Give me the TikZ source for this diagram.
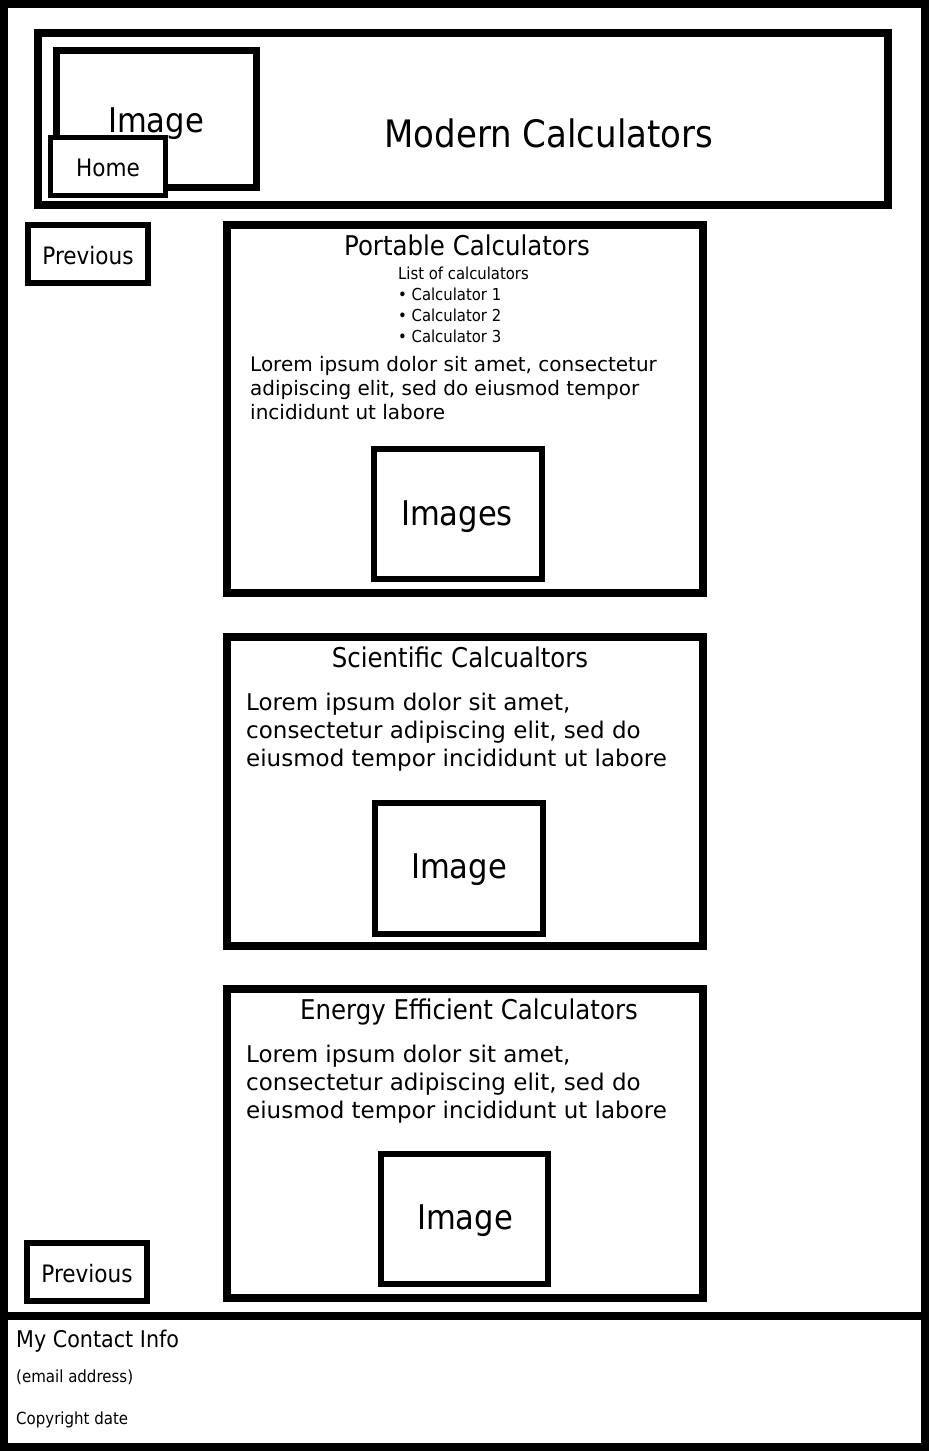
\documentclass[tikz,border=0pt]{standalone}
\usepackage{fontspec}
\setmainfont{DejaVu Sans}
\newfontfamily\tah{DejaVu Sans Condensed}
\newfontfamily\verd{DejaVu Sans}
\begin{document}
\begin{tikzpicture}[x=1pt,y=-1pt,
  frame/.style={draw=black,line width=8pt},
  boxa/.style={draw=black,fill=white,inner sep=0pt},
  lbl/.style={inner sep=0pt,font=\tah},
  big/.style={inner sep=0pt,anchor=base,font=\tah\fontsize{34}{40}\selectfont},
  head/.style={inner sep=0pt,anchor=base,font=\tah\fontsize{27.2}{32}\selectfont},
  btn/.style={inner sep=0pt,anchor=base,font=\tah\fontsize{24}{28}\selectfont},
  body/.style={inner sep=0pt,anchor=base west,font=\verd\fontsize{23}{28}\selectfont},
  bodys/.style={inner sep=0pt,anchor=base west,font=\verd\fontsize{20}{24}\selectfont},
  lst/.style={inner sep=0pt,anchor=base west,font=\tah\fontsize{16.5}{20}\selectfont},
  foot/.style={inner sep=0pt,anchor=base west,font=\tah\fontsize{16.7}{20}\selectfont}]
\useasboundingbox (0,0) rectangle (929,1451);
% outer frame and footer separator
\draw[frame] (4,4) rectangle (925,1447);
\coordinate (sepL) at (0,1316);
\coordinate (sepR) at (929,1316);
\draw[frame] (sepL) -- (sepR);
% header
\node[boxa,line width=8pt,minimum width=850pt,minimum height=172pt] (header) at (463,119) {};
\node[boxa,line width=7pt,minimum width=200pt,minimum height=137pt] (himg) at (156.5,118.75) {};
\node[big] (himgt) at (156,132) {Image};
\node[boxa,line width=5pt,minimum width=115pt,minimum height=57.5pt] (home) at (108,166.25) {};
\node[btn] (homet) at (108,176) {Home};
\node[inner sep=0pt,anchor=base,font=\tah\fontsize{37.8}{44}\selectfont] (title) at (549,147) {Modern Calculators};
% previous buttons
\node[boxa,line width=6pt,minimum width=120pt,minimum height=58pt] (prev1) at (88,254) {};
\node[btn] (prev1t) at (88,264) {Previous};
\node[boxa,line width=6pt,minimum width=120pt,minimum height=58pt] (prev2) at (87,1272) {};
\node[btn] (prev2t) at (87,1282) {Previous};
% portable
\node[boxa,line width=8pt,minimum width=476pt,minimum height=368pt] (port) at (465,409) {};
\node[head] (portt) at (467,255) {Portable Calculators};
\node[lst] (l0) at (398,279) {List of calculators};
\node[lst] (l1) at (398,300) {\textbullet\ Calculator 1};
\node[lst] (l2) at (398,321) {\textbullet\ Calculator 2};
\node[lst] (l3) at (398,342) {\textbullet\ Calculator 3};
\node[bodys] (pa) at (250,371) {Lorem ipsum dolor sit amet, consectetur};
\node[bodys] (pb) at (250,395) {adipiscing elit, sed do eiusmod tempor};
\node[bodys] (pc) at (250,419) {incididunt ut labore};
\node[boxa,line width=6pt,minimum width=168pt,minimum height=130pt] (pimg) at (458,514) {};
\node[big] (pimgt) at (457,525) {Images};
% scientific
\node[boxa,line width=8pt,minimum width=476pt,minimum height=309pt] (sci) at (465,791.5) {};
\node[head] (scit) at (460,667) {Scientific Calcualtors};
\node[body] (sa) at (246,710) {Lorem ipsum dolor sit amet,};
\node[body] (sb) at (246,738) {consectetur adipiscing elit, sed do};
\node[body] (sc) at (246,766) {eiusmod tempor incididunt ut labore};
\node[boxa,line width=6pt,minimum width=168pt,minimum height=131pt] (simg) at (459,868.5) {};
\node[big] (simgt) at (459,878) {Image};
% energy
\node[boxa,line width=8pt,minimum width=476pt,minimum height=309pt] (ene) at (465,1143.5) {};
\node[head] (enet) at (469,1019) {Energy Efficient Calculators};
\node[body] (ea) at (246,1062) {Lorem ipsum dolor sit amet,};
\node[body] (eb) at (246,1090) {consectetur adipiscing elit, sed do};
\node[body] (ec) at (246,1118) {eiusmod tempor incididunt ut labore};
\node[boxa,line width=6pt,minimum width=167pt,minimum height=130pt] (eimg) at (464.5,1219) {};
\node[big] (eimgt) at (465,1229) {Image};
% footer
\node[inner sep=0pt,anchor=base west,font=\tah\fontsize{23}{27}\selectfont] (f1) at (16,1347) {My Contact Info};
\node[foot] (f2) at (16,1382) {(email address)};
\node[foot] (f3) at (16,1424) {Copyright date};
\end{tikzpicture}
\end{document}
